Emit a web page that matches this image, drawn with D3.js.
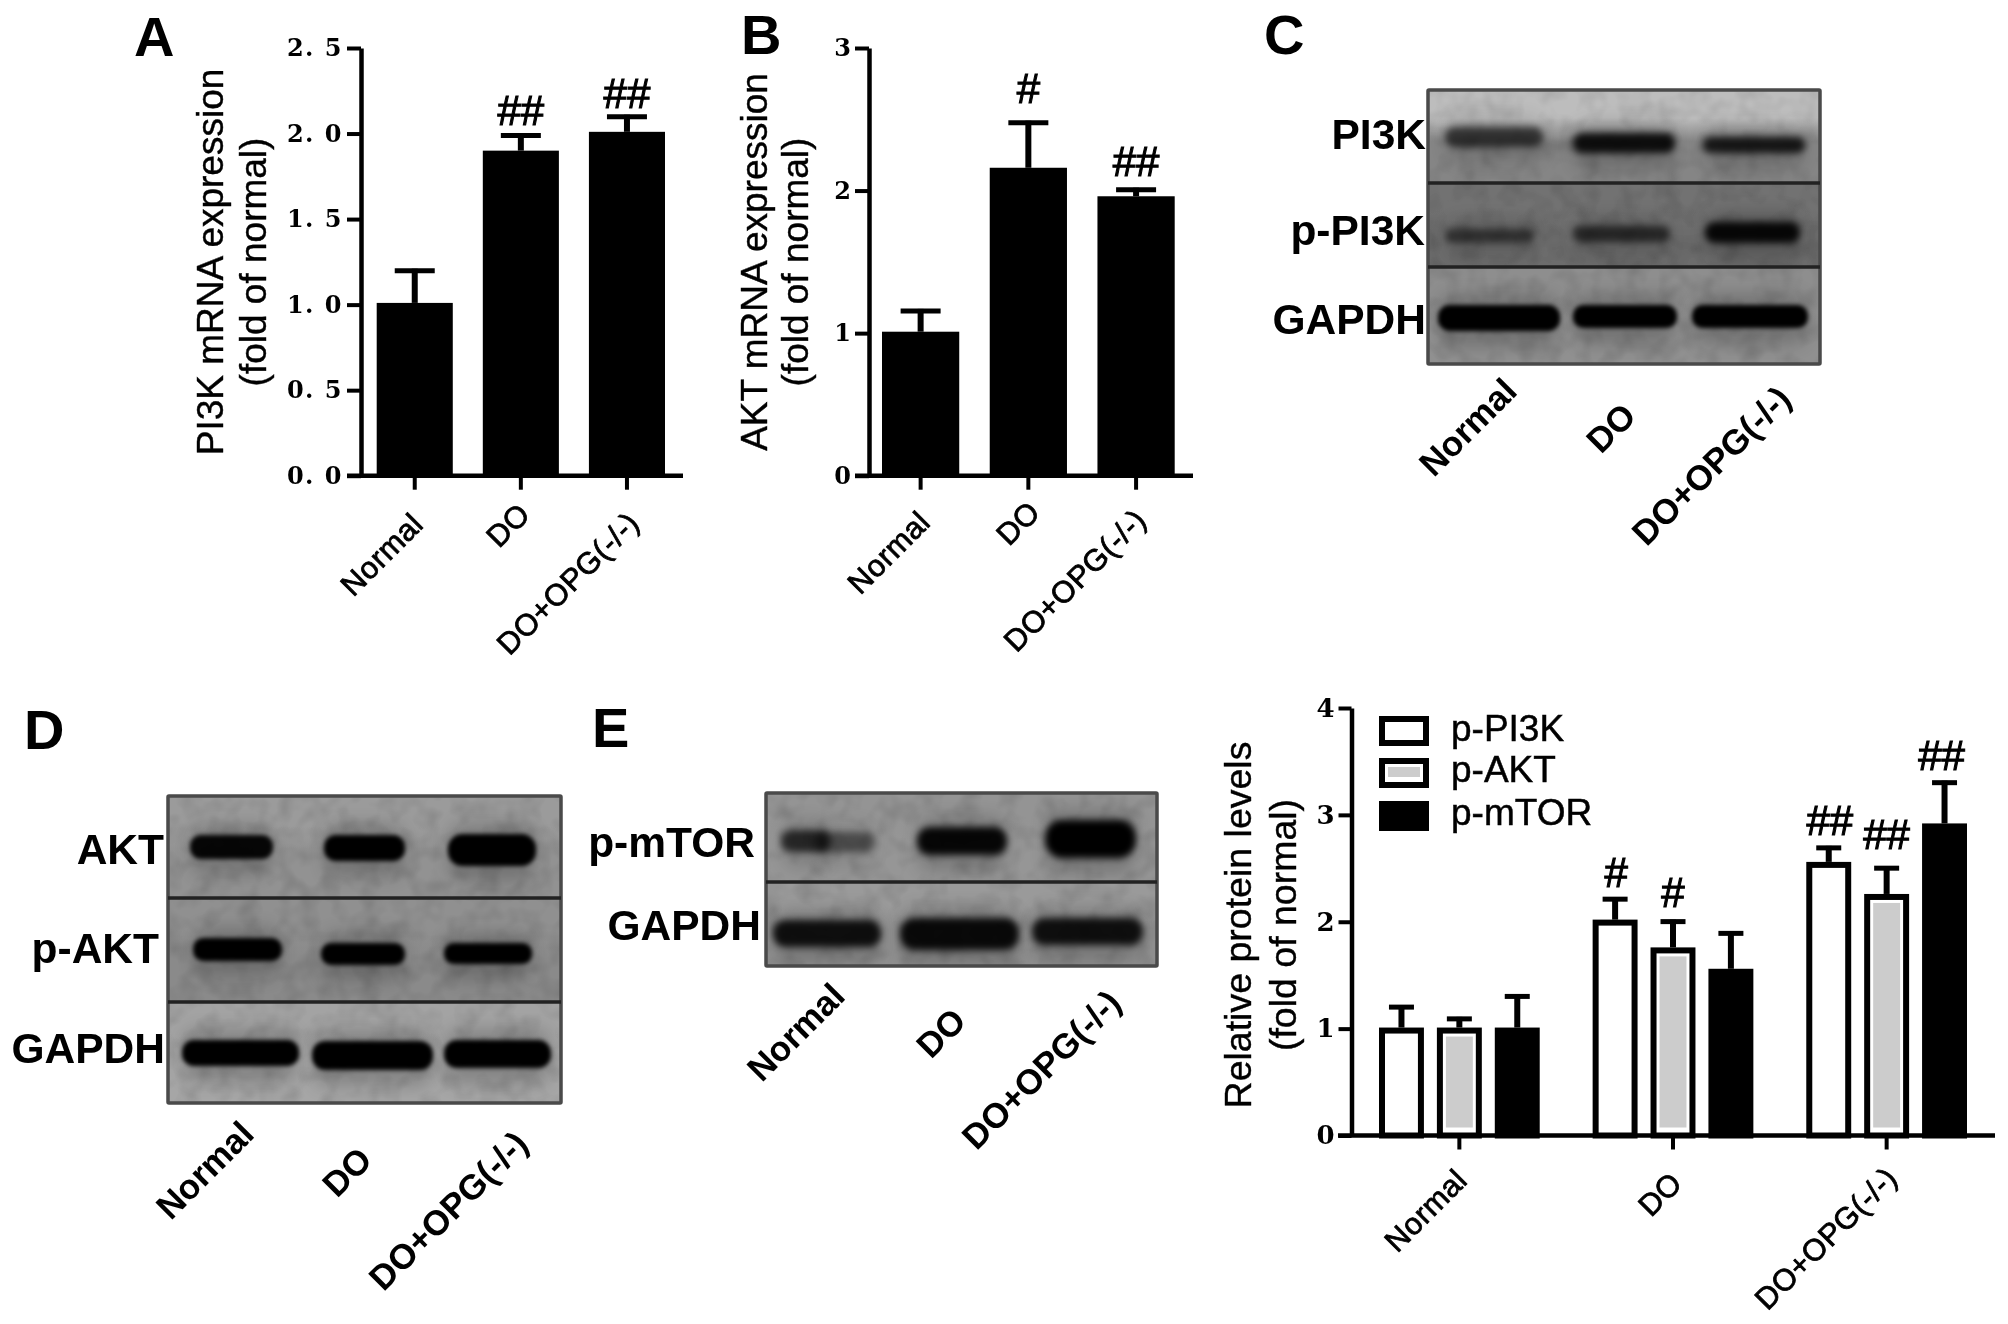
<!DOCTYPE html>
<html><head><meta charset="utf-8">
<script src="https://cdn.jsdelivr.net/npm/d3@7/dist/d3.min.js"></script>
<style>
html,body{margin:0;padding:0;background:#fff}
svg{display:block;filter:blur(0.5px)}
text{font-family:"Liberation Sans",Arial,sans-serif;fill:#000}
.tick text{font-family:"DejaVu Serif",serif;font-weight:700}
</style></head><body>
<svg id="c" width="2008" height="1324"></svg>
<script>
// ---------- data ----------
const categories = ["Normal","DO","DO+OPG(-/-)"];
const pi3kMean = [1.01,1.90,2.01];
const pi3kTop  = [1.21,2.00,2.11];
const pi3kMarks = ["","##","##"];
const aktMean = [1.01,2.16,1.96];
const aktTop  = [1.17,2.49,2.02];
const aktMarks = ["","#","##"];
const seriesNames = ["p-PI3K","p-AKT","p-mTOR"];
const pPi3kMean = [1.01,2.02,2.56];
const pPi3kTop  = [1.22,2.23,2.71];
const pPi3kMarks = ["","#","##"];
const pAktMean = [1.01,1.76,2.26];
const pAktTop  = [1.11,2.02,2.52];
const pAktMarks = ["","#","##"];
const pMtorMean = [1.01,1.56,2.92];
const pMtorTop  = [1.32,1.91,3.32];
const pMtorMarks = ["","","##"];
const ticksA = [0,0.5,1,1.5,2,2.5];
const ticksB = [0,1,2,3];
const ticksF = [0,1,2,3,4];
const tickLabelsA = ["0. 0","0. 5","1. 0","1. 5","2. 0","2. 5"];

// ---------- layout ----------
const svg = d3.select("#c");
const defs = svg.append("defs");
[[2,"b2"],[3.6,"b3"],[9,"b9"]].forEach(([s,id])=>{
  defs.append("filter").attr("id",id).attr("x","-30%").attr("y","-80%").attr("width","160%").attr("height","260%")
    .append("feGaussianBlur").attr("stdDeviation",s);
});
const tex = defs.append("filter").attr("id","tex").attr("x","0").attr("y","0").attr("width","100%").attr("height","100%");
tex.append("feTurbulence").attr("type","fractalNoise").attr("baseFrequency","0.05").attr("numOctaves",2).attr("seed",4).attr("result","n");
tex.append("feColorMatrix").attr("in","n").attr("type","matrix").attr("values","0 0 0 0 0  0 0 0 0 0  0 0 0 0 0  0.5 0 0 0 -0.2").attr("result","a");
tex.append("feComposite").attr("in","a").attr("in2","SourceGraphic").attr("operator","in").attr("result","c");
tex.append("feMerge").selectAll("feMergeNode").data(["SourceGraphic","c"]).join("feMergeNode").attr("in",d=>d);

function letter(t,x,y){svg.append("text").attr("x",x).attr("y",y).attr("font-size",56).attr("font-weight",700).text(t);}
letter("A",134,56);letter("B",741,54);letter("C",1264,54);letter("D",24,749);letter("E",592,747);

function catLabel(g,t,x,y,fs,bold,sw,ls){
  g.append("text").attr("transform",`translate(${x},${y}) rotate(-45)`).attr("text-anchor","end")
   .attr("font-size",fs).attr("font-weight",bold?700:400).attr("stroke","#000").attr("stroke-width",sw||0)
   .attr("letter-spacing",ls||0).text(t);
}
function yTitles(l1,x1,x2,yc,fs){
  [[l1,x1],["(fold of normal)",x2]].forEach(([t,x])=>{
    svg.append("text").attr("transform",`translate(${x},${yc}) rotate(-90)`).attr("text-anchor","middle")
      .attr("dominant-baseline","middle").attr("font-size",fs).attr("stroke","#000").attr("stroke-width",0.4).text(t);
  });
}
function axes(y,x,ticks,labels,baseX0,baseX1,axisX,fs,tick){
  const ax = d3.axisLeft(y).tickValues(ticks).tickSize(tick).tickSizeOuter(0).tickPadding(4);
  if(labels) ax.tickFormat((d,i)=>labels[i]); else ax.tickFormat(d3.format("d"));
  const g = svg.append("g").attr("transform",`translate(${axisX},0)`).call(ax);
  g.selectAll("line").attr("stroke","#000").attr("stroke-width",4);
  g.select(".domain").attr("stroke","#000").attr("stroke-width",4.5);
  g.selectAll("text").attr("font-size",fs);
  if(labels) g.selectAll("text").attr("letter-spacing",1.5);
  const b = d3.axisBottom(x).tickSize(14).tickSizeOuter(0).tickFormat("");
  const gb = svg.append("g").attr("transform",`translate(0,${y(0)})`).call(b);
  gb.select(".domain").remove();
  gb.selectAll("line").attr("stroke","#000").attr("stroke-width",4);
  svg.append("line").attr("x1",baseX0).attr("x2",baseX1).attr("y1",y(0)).attr("y2",y(0)).attr("stroke","#000").attr("stroke-width",4.5);
}
function errBar(g,cx,yTop,yBase,cap){
  g.append("line").attr("x1",cx).attr("x2",cx).attr("y1",yTop).attr("y2",yBase).attr("stroke","#000").attr("stroke-width",6);
  g.append("line").attr("x1",cx-cap/2).attr("x2",cx+cap/2).attr("y1",yTop+2).attr("y2",yTop+2).attr("stroke","#000").attr("stroke-width",5);
}
function hash(g,t,cx,yBase){
  if(t) g.append("text").attr("x",cx).attr("y",yBase).attr("text-anchor","middle").attr("font-size",42).attr("stroke","#000").attr("stroke-width",1.1).text(t);
}

// ---------- panels A, B ----------
function simplePanel(o){
  const y = d3.scaleLinear().domain([0,o.max]).range([475.7,48]);
  const x = d3.scaleBand().domain(categories).range(o.range).paddingInner(0.283);
  const g = svg.append("g");
  g.selectAll("rect").data(categories).join("rect")
    .attr("x",d=>x(d)).attr("width",x.bandwidth())
    .attr("y",(d,i)=>y(o.mean[i])).attr("height",(d,i)=>y(0)-y(o.mean[i])).attr("fill","#000");
  categories.forEach((c,i)=>{
    const cx=x(c)+x.bandwidth()/2;
    errBar(g,cx,y(o.top[i]),y(o.mean[i]),40);
    hash(g,o.marks[i],cx,y(o.top[i])-o.gap[i]);
  });
  axes(y,x,o.ticks,o.labels,o.base[0],o.base[1],o.axisX,o.fs,14);
  categories.forEach((c,i)=>catLabel(svg,c,o.lab[i][0],o.lab[i][1],30.5,false,0.8,0.5));
}
simplePanel({max:2.5,mean:pi3kMean,top:pi3kTop,marks:pi3kMarks,ticks:ticksA,labels:tickLabelsA,range:[376.7,665],base:[347,683],axisX:361,fs:24,gap:[0,9,7],
  lab:[[425,526],[532,516],[641,525]]});
simplePanel({max:3,mean:aktMean,top:aktTop,marks:aktMarks,ticks:ticksB,labels:null,range:[882,1174.7],base:[855,1193],axisX:869,fs:24,gap:[0,18,12],
  lab:[[932,524],[1042,514],[1148,522]]});
yTitles("PI3K mRNA expression",213,256,262,37);
yTitles("AKT mRNA expression",757,798,262,37);

// ---------- panel F grouped ----------
(function(){
  const y = d3.scaleLinear().domain([0,4]).range([1135.5,708]);
  const x0 = d3.scaleBand().domain(categories).range([1379,1967]).paddingInner(0.2477);
  const x1 = d3.scaleBand().domain(seriesNames).range([0,x0.bandwidth()]).paddingInner(0.224);
  const means=[pPi3kMean,pAktMean,pMtorMean], tops=[pPi3kTop,pAktTop,pMtorTop], marks=[pPi3kMarks,pAktMarks,pMtorMarks];
  const gaps=[[0,10,11],[0,13,17],[0,0,11]];
  const g = svg.append("g");
  function barRect(sel,s,X,Yt,W,H){
    const sw=6;
    sel.append("rect").attr("x",X+sw/2).attr("y",Yt+sw/2).attr("width",W-sw).attr("height",H-sw/2)
      .attr("fill",s===2?"#000":"#fff").attr("stroke","#000").attr("stroke-width",sw);
    if(s===1) sel.append("rect").attr("x",X+sw+3).attr("y",Yt+sw+3).attr("width",W-2*sw-6).attr("height",H-2*sw-5).attr("fill","#cccccc");
  }
  seriesNames.forEach((sn,s)=>categories.forEach((c,i)=>{
    const X=x0(c)+x1(sn), W=x1.bandwidth(), cx=X+W/2;
    errBar(g,cx,y(tops[s][i]),y(means[s][i]),25);
    barRect(g,s,X,y(means[s][i]),W,y(0)-y(means[s][i]));
    hash(g,marks[s][i],cx+(s===2?-3:s===0?1:0),y(tops[s][i])-gaps[s][i]);
  }));
  axes(y,x0,ticksF,null,1338,1995,1351.5,26,13);
  categories.forEach((c,i)=>catLabel(svg,c,[1469,1684,1899][i],[1182,1185,1180][i],30.5,false,0.8,0.5));
  yTitles("Relative protein levels",1241,1286,925,37.5);
  const leg=svg.append("g");
  seriesNames.forEach((sn,s)=>{
    const yy=[716,758,801][s];
    barRect(leg,s,1379,yy,50,27);
    leg.append("text").attr("x",1451).attr("y",[741,782,825][s]).attr("font-size",37).attr("stroke","#000").attr("stroke-width",0.5).text(sn);
  });
})();

// ---------- western blots ----------
const blots = [
 {x:[1428,1820],rows:[
   {y:[90,183],top:"#bdbdbd",bot:"#858585",label:"PI3K",bx:1426,by:149,bands:[[1445,1543,127,147,.62,3],[1573,1675,133,153,.88,3],[1703,1805,137,153,.8,3]]},
   {y:[183,267],top:"#727272",bot:"#6c6c6c",label:"p-PI3K",bx:1425,by:245,bands:[[1445,1533,229,243,.5,3],[1573,1670,226,242,.6,3],[1705,1800,222,243,.92,3]]},
   {y:[267,364],top:"#8e8e8e",bot:"#909090",label:"GAPDH",bx:1426,by:334,bands:[[1438,1560,305,331,1,2],[1573,1677,305,328,1,2],[1692,1808,305,328,1,2]]}],
  cats:[[1519,393],[1638,418],[1793,401]]},
 {x:[168,561],rows:[
   {y:[796,898],top:"#9b9b9b",bot:"#929292",label:"AKT",bx:164,by:864,bands:[[190,273,835,859,.95,2],[324,405,835,861,1,2],[448,536,834,866,1,2]]},
   {y:[898,1002],top:"#909090",bot:"#8a8a8a",label:"p-AKT",bx:159,by:963,bands:[[193,282,938,961,1,2],[321,405,943,965,1,2],[444,532,943,964,1,2]]},
   {y:[1002,1103],top:"#a3a3a3",bot:"#a6a6a6",label:"GAPDH",bx:165,by:1063,bands:[[182,299,1040,1066,1,2],[312,433,1041,1070,1,2],[444,551,1040,1068,1,2]]}],
  cats:[[256,1136],[374,1162],[530,1146]]},
 {x:[766,1157],rows:[
   {y:[793,882],top:"#949494",bot:"#969696",label:"p-mTOR",bx:755,by:857,bands:[[781,830,830,852,.7,3],[815,875,832,852,.45,3],[917,1007,827,855,.95,3],[1045,1136,820,858,1,3]]},
   {y:[882,966],top:"#9a9a9a",bot:"#909090",label:"GAPDH",bx:761,by:940,bands:[[773,881,920,947,.88,3],[900,1019,918,950,.92,3],[1032,1143,918,945,.88,3]]}],
  cats:[[847,998],[968,1023],[1123,1005]]}
];
blots.forEach((b,bi)=>{
  const g=svg.append("g");
  b.rows.forEach((r,ri)=>{
    const id=`g${bi}_${ri}`;
    const lg=defs.append("linearGradient").attr("id",id).attr("x1",0).attr("x2",0).attr("y1",0).attr("y2",1);
    lg.append("stop").attr("offset","0").attr("stop-color",r.top);
    lg.append("stop").attr("offset","0.3").attr("stop-color",r.top);
    lg.append("stop").attr("offset","0.55").attr("stop-color",r.bot);
    lg.append("stop").attr("offset","1").attr("stop-color",r.bot);
    const cp=`cp${bi}_${ri}`;
    defs.append("clipPath").attr("id",cp).append("rect").attr("x",b.x[0]).attr("y",r.y[0]).attr("width",b.x[1]-b.x[0]).attr("height",r.y[1]-r.y[0]);
    const rg=g.append("g").attr("clip-path",`url(#${cp})`);
    rg.append("rect").attr("x",b.x[0]).attr("y",r.y[0]).attr("width",b.x[1]-b.x[0]).attr("height",r.y[1]-r.y[0]).attr("fill",`url(#${id})`).attr("filter","url(#tex)");
    r.bands.forEach(d=>{
      const [x0,x1,y0,y1,k,bl]=d;
      rg.append("rect").attr("x",x0+2).attr("y",y0-10).attr("width",x1-x0-4).attr("height",y1-y0+26).attr("rx",12).attr("fill","#000").attr("opacity",0.2*k).attr("filter","url(#b9)");
      rg.append("rect").attr("x",x0).attr("y",y0).attr("width",x1-x0).attr("height",y1-y0).attr("rx",(y1-y0)/2.2).attr("fill","#060606").attr("opacity",k).attr("filter",`url(#b${bl})`);
    });
    svg.append("text").attr("x",r.bx).attr("y",r.by).attr("text-anchor","end").attr("font-size",42.5).attr("font-weight",700).text(r.label);
  });
  const top=b.rows[0].y[0], bot=b.rows[b.rows.length-1].y[1];
  g.append("rect").attr("x",b.x[0]).attr("y",top).attr("width",b.x[1]-b.x[0]).attr("height",bot-top).attr("fill","none").attr("stroke","#4a4a4a").attr("stroke-width",3.5).attr("rx",1);
  b.rows.slice(1).forEach(r=>g.append("line").attr("x1",b.x[0]).attr("x2",b.x[1]).attr("y1",r.y[0]).attr("y2",r.y[0]).attr("stroke","#222").attr("stroke-width",3.5));
  categories.forEach((c,i)=>catLabel(svg,c,b.cats[i][0],b.cats[i][1],35,true,0));
});
</script></body></html>
